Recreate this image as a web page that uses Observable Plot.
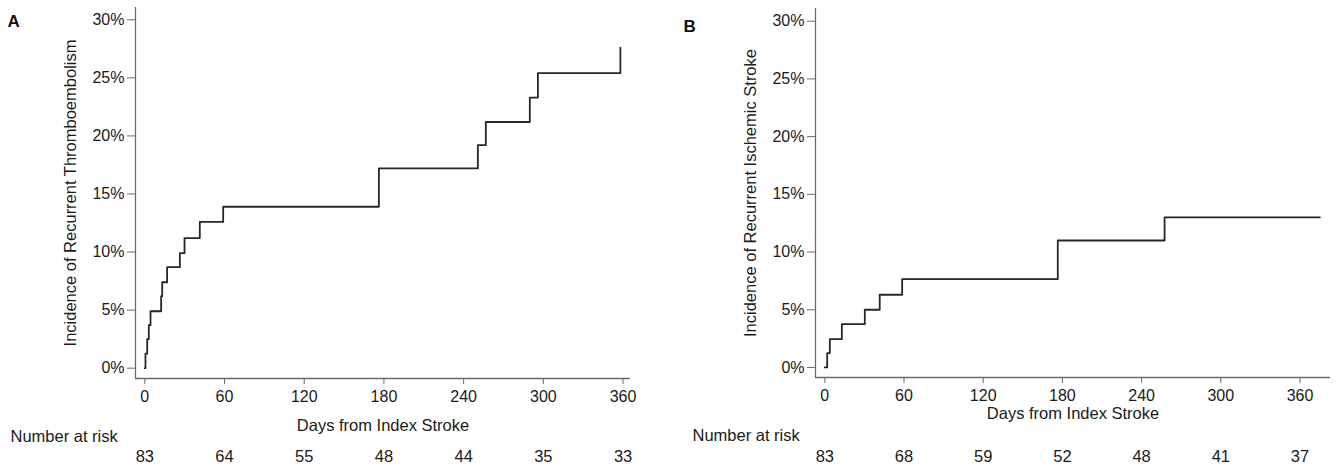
<!DOCTYPE html>
<html><head><meta charset="utf-8">
<script src="https://cdn.jsdelivr.net/npm/d3@7"></script>
<script src="https://cdn.jsdelivr.net/npm/@observablehq/plot@0.6"></script>
<style>
body{margin:0;background:#fff;}
#wrap{display:flex;width:1342px;height:470px;}
#wrap > div{width:671px;height:470px;}
svg{font-family:"Liberation Sans",Arial,Helvetica,sans-serif;}
</style></head><body><div id="wrap"><div id="a"></div><div id="b"></div></div>
<script>
// Panel A: recurrent thromboembolism (cumulative incidence, %)
const daysA = [0, 0.5, 1.8, 3.0, 4.3, 12.3, 13.1, 16.8, 26.4, 29.9, 41.4, 59.0, 176.2, 250.7, 256.7, 289.8, 295.9, 358.0];
const pctA  = [0, 1.25, 2.5, 3.7, 4.9, 6.2, 7.4, 8.7, 9.9, 11.2, 12.6, 13.9, 17.2, 19.2, 21.2, 23.3, 25.4, 27.6];
// Panel B: recurrent ischemic stroke
const daysB = [0, 0.5, 1.8, 3.8, 12.9, 30.3, 41.6, 58.6, 176.5, 257.4, 375.0];
const pctB  = [0, 0, 1.25, 2.45, 3.75, 5.0, 6.3, 7.65, 11.0, 13.0, 13.0];
// Axis ticks
const xTicks = [0, 60, 120, 180, 240, 300, 360];
const yTicks = [0, 5, 10, 15, 20, 25, 30];
// Number at risk
const riskA = [83, 64, 55, 48, 44, 35, 33];
const riskB = [83, 68, 59, 52, 48, 41, 37];

const FS = 16;
const lineColor = "#262626";
const axisColor = "#6a6a6a";
const textColor = "#1a1a1a";

function panel(o) {
  const pts = o.days.map((d, i) => ({day: d, pct: o.pct[i]}));
  const riskRows = xTicks.map((d, i) => ({day: d, n: o.risk[i]}));
  const T = {fill: textColor, fontSize: 16.5, lineAnchor: "middle"};
  return Plot.plot({
    width: 671,
    height: 470,
    marginLeft: o.ml, marginRight: o.mr, marginTop: o.mt, marginBottom: o.mb,
    style: {fontSize: FS + "px", fontFamily: '"Liberation Sans", Arial, sans-serif', color: textColor, background: "#fff"},
    x: {domain: o.xDomain, axis: null},
    y: {domain: o.yDomain, axis: null},
    marks: [
      Plot.ruleX([o.xDomain[0]], {stroke: axisColor, strokeWidth: 1.3}),
      Plot.ruleY([o.yDomain[0]], {stroke: axisColor, strokeWidth: 1.3}),
      Plot.axisY({ticks: yTicks, tickFormat: d => d + "%", tickSize: 8, tickPadding: 3, stroke: axisColor, fill: textColor, fontSize: FS, label: null}),
      Plot.axisX({ticks: xTicks, tickFormat: d => String(d), tickSize: 6, tickPadding: 6, stroke: axisColor, fill: textColor, fontSize: FS, label: null}),
      Plot.line(pts, {x: "day", y: "pct", curve: "step-after", stroke: lineColor, strokeWidth: 1.8}),
      Plot.text([o.yLabel], {...T, frameAnchor: "left", textAnchor: "middle", rotate: -90, dx: o.yLabelDx}),
      Plot.text(["Days from Index Stroke"], {...T, frameAnchor: "bottom", textAnchor: "middle", dy: o.titleDy}),
      Plot.text(["Number at risk"], {...T, frameAnchor: "bottom-left", textAnchor: "start", dx: o.narDx, dy: o.narDy}),
      Plot.text(riskRows, {...T, x: "day", text: d => String(d.n), frameAnchor: "bottom", textAnchor: "middle", dy: o.riskDy}),
      Plot.text([o.letter], {frameAnchor: "top-left", textAnchor: "start", lineAnchor: "middle", dx: o.letterDx, dy: o.letterDy, fontSize: 17, fontWeight: "bold", fill: "#111"})
    ]
  });
}

document.getElementById("a").appendChild(panel({
  letter: "A", days: daysA, pct: pctA, risk: riskA,
  yLabel: "Incidence of Recurrent Thromboembolism",
  ml: 135, mr: 41, mt: 7, mb: 92,
  xDomain: [-7, 365.6], yDomain: [-0.89, 31.06],
  yLabelDx: -65, titleDy: 47, narDx: -125, narDy: 58, riskDy: 78,
  letterDx: -128, letterDy: 14
}));

document.getElementById("b").appendChild(panel({
  letter: "B", days: daysB, pct: pctB, risk: riskB,
  yLabel: "Incidence of Recurrent Ischemic Stroke",
  ml: 144, mr: 12, mt: 8, mb: 93,
  xDomain: [-7.05, 383.1], yDomain: [-0.87, 31.1],
  yLabelDx: -65, titleDy: 36, narDx: -123, narDy: 58, riskDy: 79,
  letterDx: -132, letterDy: 18
}));
</script>
</body></html>
